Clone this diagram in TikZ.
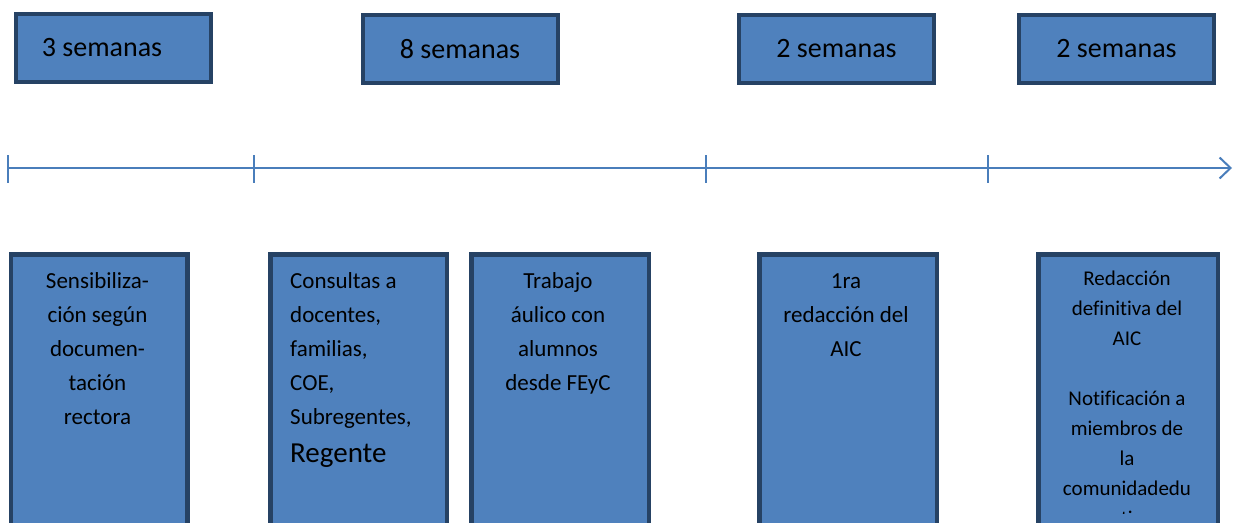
\documentclass[tikz,border=0pt]{standalone}
\usepackage{fontspec}
\setmainfont{Carlito}[Ligatures={NoCommon}]
\usetikzlibrary{arrows.meta}
\definecolor{boxfill}{HTML}{4F81BD}
\definecolor{boxline}{HTML}{264264}
\definecolor{axiscol}{HTML}{4A7EBB}
\tikzset{
  topbox/.style={draw=boxline, fill=boxfill, line width=4pt, minimum width=195pt,
    minimum height=68pt, inner sep=0pt, font=\fontsize{28}{34}\selectfont},
  lowbox/.style={draw=boxline, fill=boxfill, line width=4.5pt, anchor=north west,
    inner sep=0pt, minimum height=300pt},
  btext/.style={font=\fontsize{23}{34}\selectfont, align=center, inner sep=0pt, anchor=north},
  axisline/.style={draw=axiscol, line width=2pt},
  tickline/.style={draw=axiscol, line width=1.3pt}
}
\begin{document}
\begin{tikzpicture}[x=1pt,y=-1pt]
\clip (0,0) rectangle (1233,522);
% top duration boxes
\node[topbox] (w1) at (113.5,48) {\hspace{-23pt}3 semanas};
\node[topbox] (w2) at (460,49) {8 semanas};
\node[topbox] (w3) at (836.5,49) {2 semanas};
\node[topbox] (w4) at (1116.5,49) {2 semanas};
% timeline
\coordinate (t0) at (8,168);
\coordinate (t1) at (254,168);
\coordinate (t2) at (706,168);
\coordinate (t3) at (988,168);
\coordinate (tend) at (1232,168);
\draw[axisline, -{Straight Barb[length=11pt,width=21pt,line width=2pt]}] (t0) -- (tend);
\foreach \t in {t0,t1,t2,t3}{
  \draw[tickline] (\t) ++(0,-13) -- ++(0,28);
}
% lower activity boxes
\node[lowbox, minimum width=176.5pt] (A) at (8.75,252.25) {};
\node[lowbox, minimum width=176.5pt] (B) at (268.25,252.25) {};
\node[lowbox, minimum width=177.5pt] (C) at (469.25,252.25) {};
\node[lowbox, minimum width=177.5pt] (D) at (757.25,252.25) {};
\node[lowbox, minimum width=179.5pt] (E) at (1036.25,252.25) {};
% texts
\node[btext] (ta) at (97.5,264.2) {\strut Sensibiliza-\\ción según\\documen-\\tación\\rectora};
\node[btext, align=left, anchor=north west] (tb) at (290,264.2) {\strut Consultas a\\docentes,\\familias,\\COE,\\Subregentes,\\[4pt]{\fontsize{29}{34}\selectfont Regente}};
\node[btext] (tc) at (558,264.2) {\strut Trabajo\\áulico con\\alumnos\\desde FEyC};
\node[btext] (td) at (846,264.2) {\strut 1ra\\redacción del\\AIC};
\begin{scope}
\clip (1040,256) rectangle (1216,513);
\node[btext, font=\fontsize{21}{30}\selectfont] (te) at (1127,264) {\strut Redacción\\definitiva del\\AIC\\[30pt]Notificación a\\miembros de\\la\\comunidadedu\\cativa};
\end{scope}
\end{tikzpicture}
\end{document}
